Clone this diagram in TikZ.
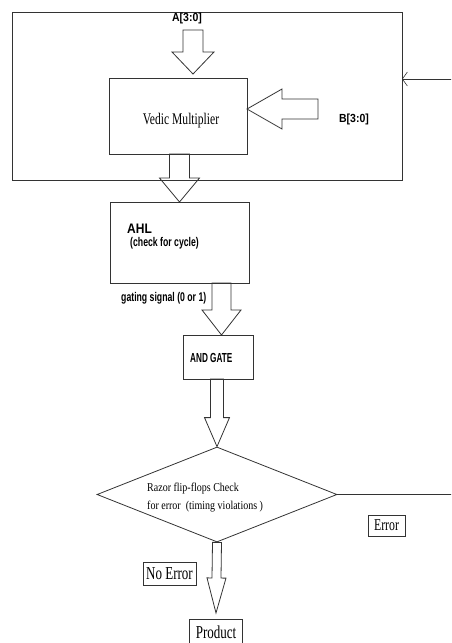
\documentclass[tikz,border=0pt]{standalone}
\usepackage{fontspec}
\setmainfont{Liberation Serif}
\setsansfont{Liberation Sans}
\usepackage{graphicx}
\usetikzlibrary{arrows.meta,calc,shapes.geometric}
\tikzset{
  ln/.style={draw=black!80,line width=0.8pt},
  bx/.style={ln,rectangle,inner sep=0pt,outer sep=0pt},
  fat/.style={ln,line join=miter},
  tm/.style={font=\fontsize{#1}{#1}\selectfont},
  ar/.style={font=\sffamily\bfseries\fontsize{#1}{#1}\selectfont,inner sep=0pt},
  fb/.style={ln,line width=0.6pt,-{Straight Barb[length=5pt,width=14pt]}}
}
\newcommand{\tall}[2][1.4]{\scalebox{1}[#1]{#2}}
\newcommand{\fat}[5]{\coordinate (hb) at ($(#2)!#5!(#1)$);
  \draw[fat] ($(#1)!#3!90:(#2)$) -- ($(hb)!#3!90:(#2)$) -- ($(hb)!#4!90:(#2)$) -- (#2)
    -- ($(hb)!#4!-90:(#2)$) -- ($(hb)!#3!-90:(#2)$) -- ($(#1)!#3!-90:(#2)$) -- cycle;}

\begin{document}
\begin{tikzpicture}[x=1pt,y=-1pt]
\useasboundingbox (0,0) rectangle (451,643); \clip (0,0) rectangle (451,643);
\node[bx,minimum width=390pt,minimum height=168pt] (sys) at (207,96) {};
\node[bx,minimum width=138pt,minimum height=76pt] (vm) at (178,116) {};
\node[tm=11.6,anchor=base] (vmt) at (181,124) {\tall{Vedic Multiplier}};
\node[ar=10.5,anchor=base] (alab) at (187,21) {\tall[1.12]{A[3:0]}};
\node[ar=10.5,anchor=base] (blab) at (354,122) {\tall[1.12]{B[3:0]}};
\coordinate (ain) at (193,30); \coordinate (atip) at ($(vm.north -| ain)+(0,-4)$);
\fat{ain}{atip}{10pt}{21pt}{22pt}
\coordinate (bin) at (318,109);
\fat{bin}{vm.east |- bin}{10pt}{20pt}{35pt}
\coordinate (fbin) at (452,79); \draw[fb] (fbin) -- (sys.east |- fbin);
\node[bx,minimum width=139pt,minimum height=81pt] (ahl) at (179.5,242.5) {};
\node[ar=12,anchor=base west] (ahlt) at (127,233) {\tall[1.15]{AHL}};
\node[ar=8.7,anchor=base west] (ahlc) at (130,246) {\tall[1.45]{(check for cycle)}};
\fat{vm.south -| ahl.north}{ahl.north}{10pt}{20pt}{24pt}
\node[ar=8.7,anchor=base west] (gsl) at (121,301) {\tall[1.45]{gating signal (0 or 1)}};
\node[bx,minimum width=70pt,minimum height=44pt] (gate) at (218,357) {};
\node[ar=8.2,anchor=base west] (gatet) at (190,362) {\tall[1.6]{AND GATE}};
\coordinate (gs) at (221.5,283);
\fat{gs}{gate.north -| gs}{9.5pt}{19.5pt}{25pt}
\node[ln,diamond,minimum width=240pt,minimum height=95pt,inner sep=0pt] (dia) at (217,494.5) {};
\node[font=\fontsize{10}{15}\selectfont,anchor=west,inner sep=0pt] (diat) at (147,497)
  {\tall[1.2]{\begin{tabular}{@{}l@{}}Razor flip-flops Check\\for error\ \ (timing violations )\end{tabular}}};
\fat{gate.south -| dia.north}{dia.north}{6.5pt}{12.5pt}{29pt}
\coordinate (eend) at (452,494.5); \draw[ln] (dia.east) -- (eend);
\node[bx,minimum width=37pt,minimum height=21pt,tm=11.8] (err) at (386.5,525.5) {\tall{Error}};
\node[bx,minimum width=53pt,minimum height=23pt,tm=13] (noerr) at (169.5,573.5) {\tall{No Error}};
\node[bx,minimum width=53pt,minimum height=26pt,tm=13] (prod) at (216,632) {\tall{Product}};
\coordinate (ptip) at ($(prod.north)+(0,-6)$);
\fat{dia.south}{ptip}{4.5pt}{9.5pt}{35pt}
\end{tikzpicture}
\end{document}
